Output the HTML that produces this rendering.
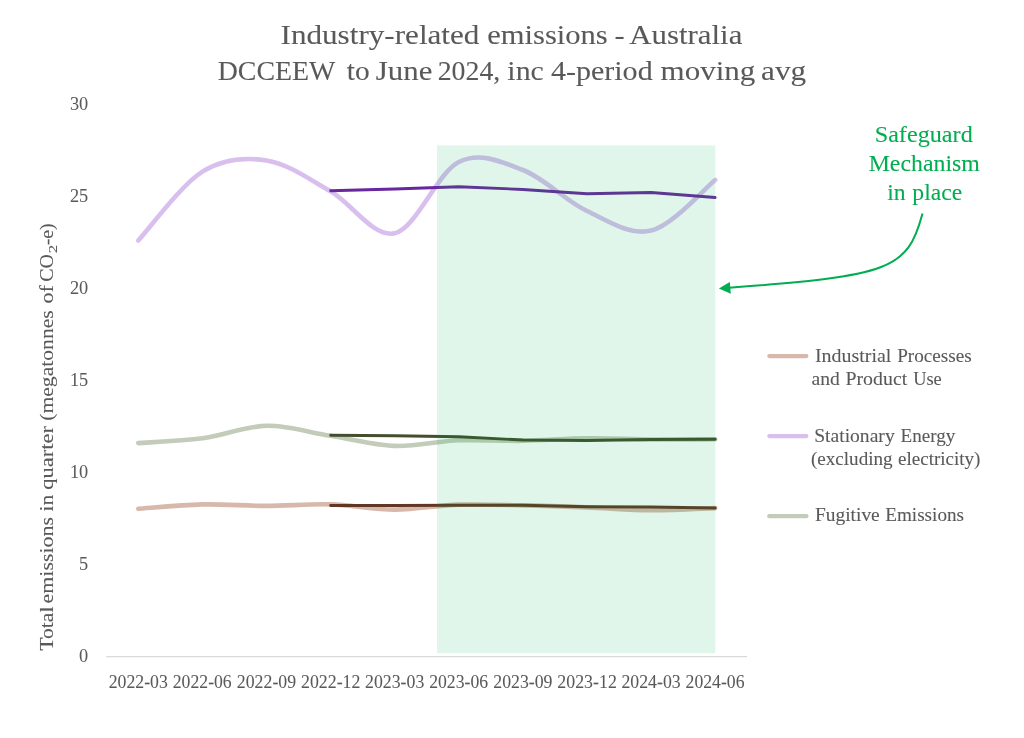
<!DOCTYPE html>
<html lang="en"><head><meta charset="utf-8"><title>Industry-related emissions - Australia</title>
<style>
html,body{margin:0;padding:0;background:#fff;}
body{width:1024px;height:738px;overflow:hidden;}
svg{display:block;}
text{font-family:"Liberation Serif",serif;fill:#595959;stroke:#595959;stroke-width:0.08px;}
.t{font-size:27px;}
.ax{font-size:18.3px;stroke-width:0.05px;}
.lg{font-size:18.3px;}
.an{font-size:22.5px;fill:#00ad50;stroke:#00ad50;}
.yt{font-size:19.8px;stroke-width:0.08px;}
.ys{font-size:12.5px;}
</style></head><body>
<svg width="1024" height="738" viewBox="0 0 1024 738">
<rect width="1024" height="738" fill="#ffffff"/>

<g>
<text class="t" x="280.55" y="43.9" textLength="198.87" lengthAdjust="spacingAndGlyphs">Industry-related</text>
<text class="t" x="487.17" y="43.9" textLength="120.58" lengthAdjust="spacingAndGlyphs">emissions</text>
<text class="t" x="614.57" y="43.9" textLength="10.16" lengthAdjust="spacingAndGlyphs">-</text>
<text class="t" x="629.31" y="43.9" textLength="113.05" lengthAdjust="spacingAndGlyphs">Australia</text>
<text class="t" x="217.73" y="80.3" textLength="117.67" lengthAdjust="spacingAndGlyphs">DCCEEW</text>
<text class="t" x="346.83" y="80.3" textLength="22.88" lengthAdjust="spacingAndGlyphs">to</text>
<text class="t" x="375.83" y="80.3" textLength="56.51" lengthAdjust="spacingAndGlyphs">June</text>
<text class="t" x="437.67" y="80.3" textLength="62.64" lengthAdjust="spacingAndGlyphs">2024,</text>
<text class="t" x="507.35" y="80.3" textLength="36.48" lengthAdjust="spacingAndGlyphs">inc</text>
<text class="t" x="550.94" y="80.3" textLength="101.70" lengthAdjust="spacingAndGlyphs">4-period</text>
<text class="t" x="660.63" y="80.3" textLength="94.77" lengthAdjust="spacingAndGlyphs">moving</text>
<text class="t" x="761.05" y="80.3" textLength="45.01" lengthAdjust="spacingAndGlyphs">avg</text>
<text class="lg" x="814.95" y="361.5" textLength="76.40" lengthAdjust="spacingAndGlyphs">Industrial</text>
<text class="lg" x="897.18" y="361.5" textLength="74.55" lengthAdjust="spacingAndGlyphs">Processes</text>
<text class="lg" x="811.56" y="384.7" textLength="28.30" lengthAdjust="spacingAndGlyphs">and</text>
<text class="lg" x="845.46" y="384.7" textLength="61.78" lengthAdjust="spacingAndGlyphs">Product</text>
<text class="lg" x="913.15" y="384.7" textLength="28.54" lengthAdjust="spacingAndGlyphs">Use</text>
<text class="lg" x="814.16" y="441.6" textLength="80.54" lengthAdjust="spacingAndGlyphs">Stationary</text>
<text class="lg" x="900.58" y="441.6" textLength="54.79" lengthAdjust="spacingAndGlyphs">Energy</text>
<text class="lg" x="810.92" y="464.8" textLength="81.78" lengthAdjust="spacingAndGlyphs">(excluding</text>
<text class="lg" x="898.02" y="464.8" textLength="82.38" lengthAdjust="spacingAndGlyphs">electricity)</text>
<text class="lg" x="814.97" y="521.2" textLength="64.78" lengthAdjust="spacingAndGlyphs">Fugitive</text>
<text class="lg" x="885.28" y="521.2" textLength="78.73" lengthAdjust="spacingAndGlyphs">Emissions</text>
<text class="an" x="874.69" y="141.5" textLength="98.05" lengthAdjust="spacingAndGlyphs">Safeguard</text>
<text class="an" x="868.67" y="170.7" textLength="111.18" lengthAdjust="spacingAndGlyphs">Mechanism</text>
<text class="an" x="887.27" y="199.6" textLength="18.40" lengthAdjust="spacingAndGlyphs">in</text>
<text class="an" x="912.34" y="199.6" textLength="49.82" lengthAdjust="spacingAndGlyphs">place</text>
<text class="ax" x="108.67" y="687.7" textLength="59.20" lengthAdjust="spacingAndGlyphs">2022-03</text>
<text class="ax" x="172.77" y="687.7" textLength="58.95" lengthAdjust="spacingAndGlyphs">2022-06</text>
<text class="ax" x="236.87" y="687.7" textLength="59.20" lengthAdjust="spacingAndGlyphs">2022-09</text>
<text class="ax" x="300.97" y="687.7" textLength="59.45" lengthAdjust="spacingAndGlyphs">2022-12</text>
<text class="ax" x="365.07" y="687.7" textLength="59.20" lengthAdjust="spacingAndGlyphs">2023-03</text>
<text class="ax" x="429.17" y="687.7" textLength="58.95" lengthAdjust="spacingAndGlyphs">2023-06</text>
<text class="ax" x="493.27" y="687.7" textLength="59.20" lengthAdjust="spacingAndGlyphs">2023-09</text>
<text class="ax" x="557.37" y="687.7" textLength="59.45" lengthAdjust="spacingAndGlyphs">2023-12</text>
<text class="ax" x="621.47" y="687.7" textLength="59.20" lengthAdjust="spacingAndGlyphs">2024-03</text>
<text class="ax" x="685.57" y="687.7" textLength="58.95" lengthAdjust="spacingAndGlyphs">2024-06</text>
</g>
<text class="ax" x="88.2" y="662.4" text-anchor="end">0</text>
<text class="ax" x="88.2" y="570.2" text-anchor="end">5</text>
<text class="ax" x="88.2" y="478.1" text-anchor="end">10</text>
<text class="ax" x="88.2" y="386.1" text-anchor="end">15</text>
<text class="ax" x="88.2" y="293.9" text-anchor="end">20</text>
<text class="ax" x="88.2" y="201.8" text-anchor="end">25</text>
<text class="ax" x="88.2" y="109.7" text-anchor="end">30</text>
<g transform="translate(52.9 0) rotate(-90)">
<text class="yt" x="-650.87" y="0" textLength="44.29" lengthAdjust="spacingAndGlyphs">Total</text>
<text class="yt" x="-603.43" y="0" textLength="86.51" lengthAdjust="spacingAndGlyphs">emissions</text>
<text class="yt" x="-511.57" y="0" textLength="16.72" lengthAdjust="spacingAndGlyphs">in</text>
<text class="yt" x="-489.75" y="0" textLength="63.77" lengthAdjust="spacingAndGlyphs">quarter</text>
<text class="yt" x="-420.82" y="0" textLength="110.55" lengthAdjust="spacingAndGlyphs">(megatonnes</text>
<text class="yt" x="-303.64" y="0" textLength="18.42" lengthAdjust="spacingAndGlyphs">of</text>
<text class="yt" x="-281.65" y="0" textLength="27.59" lengthAdjust="spacingAndGlyphs">CO</text>
<text class="yt" x="-245.35" y="0" textLength="22.08" lengthAdjust="spacingAndGlyphs">-e)</text>
<text class="ys" x="-253.38" y="4.1" textLength="8.50" lengthAdjust="spacingAndGlyphs">2</text>
</g>
<line x1="106.3" y1="656.55" x2="747" y2="656.55" stroke="#d9d9d9" stroke-width="1.3"/>
<g fill="none" stroke-linecap="round" stroke-linejoin="round">
<path d="M138.30 508.80 C148.98 508.07 181.03 504.88 202.40 504.40 C223.77 503.92 245.13 505.90 266.50 505.90 C287.87 505.90 309.23 503.78 330.60 504.40 C351.97 505.02 373.33 509.56 394.70 509.60 C416.07 509.64 437.43 505.35 458.80 504.65 C480.17 503.95 501.53 504.94 522.90 505.40 C544.27 505.86 565.63 506.60 587.00 507.40 C608.37 508.20 629.73 510.08 651.10 510.20 C672.47 510.32 704.52 508.45 715.20 508.10" stroke="#d8b8ab" stroke-width="4.6"/>
<path d="M138.30 240.50 C148.98 229.02 181.03 184.95 202.40 171.60 C223.77 158.25 245.13 157.12 266.50 160.40 C287.87 163.68 309.23 179.15 330.60 191.30 C351.97 203.45 373.33 238.18 394.70 233.30 C416.07 228.42 437.43 172.55 458.80 162.00 C480.17 151.45 501.53 161.83 522.90 170.00 C544.27 178.17 565.63 200.90 587.00 211.00 C608.37 221.10 629.73 235.77 651.10 230.60 C672.47 225.43 704.52 188.43 715.20 180.00" stroke="#d8bfee" stroke-width="4.6"/>
<path d="M138.30 443.10 C148.98 442.30 181.03 441.18 202.40 438.30 C223.77 435.42 245.13 426.22 266.50 425.80 C287.87 425.38 309.23 432.45 330.60 435.80 C351.97 439.15 373.33 445.15 394.70 445.90 C416.07 446.65 437.43 441.15 458.80 440.30 C480.17 439.45 501.53 441.13 522.90 440.80 C544.27 440.47 565.63 438.52 587.00 438.30 C608.37 438.08 629.73 439.33 651.10 439.50 C672.47 439.67 704.52 439.33 715.20 439.30" stroke="#c2ccb8" stroke-width="4.6"/>
<path d="M330.60 505.50 L394.70 505.50 L458.80 505.25 L522.90 505.25 L587.00 506.75 L651.10 507.00 L715.20 508.00" stroke="#603724" stroke-width="2.8"/>
<path d="M330.60 190.75 L394.70 189.00 L458.80 186.75 L522.90 189.50 L587.00 193.75 L651.10 192.50 L715.20 197.50" stroke="#69279e" stroke-width="2.8"/>
<path d="M330.60 435.25 L394.70 435.75 L458.80 436.75 L522.90 440.00 L587.00 440.50 L651.10 439.50 L715.20 439.25" stroke="#424e2e" stroke-width="2.8"/>
</g>
<rect x="437" y="145.5" width="278.2" height="507.7" fill="#00b050" fill-opacity="0.118"/>
<path d="M922.5 213.5 C907.5 269.9 890.1 275.7 729 287.75" fill="none" stroke="#00ad50" stroke-width="2"/>
<path d="M718.9 288.5 L729.8 281.9 L730.8 293.8 Z" fill="#00ad50"/>
<g stroke-width="4.2" stroke-linecap="round">
<line x1="769.3" y1="356.1" x2="806.4" y2="356.1" stroke="#d8b8ab"/>
<line x1="769.3" y1="436.05" x2="806.4" y2="436.05" stroke="#d8bfee"/>
<line x1="769.3" y1="516.2" x2="806.4" y2="516.2" stroke="#c2ccb8"/>
</g>
</svg></body></html>
